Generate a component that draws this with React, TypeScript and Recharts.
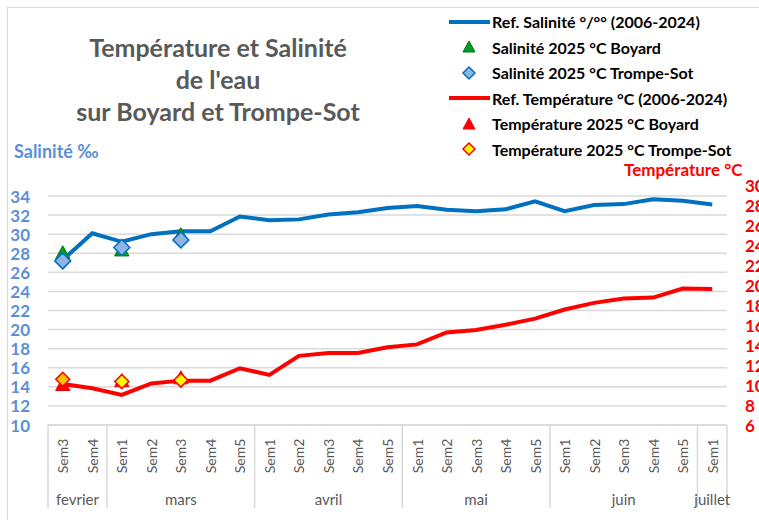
import { ComposedChart, Line, XAxis, YAxis, CartesianGrid } from 'recharts';

const WEEKS = [
  'Sem3', 'Sem4',
  'Sem1', 'Sem2', 'Sem3', 'Sem4', 'Sem5',
  'Sem1', 'Sem2', 'Sem3', 'Sem4', 'Sem5',
  'Sem1', 'Sem2', 'Sem3', 'Sem4', 'Sem5',
  'Sem1', 'Sem2', 'Sem3', 'Sem4', 'Sem5',
  'Sem1',
];
const MONTHS = [
  'fevrier', 'fevrier',
  'mars', 'mars', 'mars', 'mars', 'mars',
  'avril', 'avril', 'avril', 'avril', 'avril',
  'mai', 'mai', 'mai', 'mai', 'mai',
  'juin', 'juin', 'juin', 'juin', 'juin',
  'juillet',
];

// salinité (axe gauche)
const SAL_REF = [27.3, 30.1, 29.2, 30.0, 30.3, 30.3, 31.85, 31.45, 31.55, 32.05, 32.3, 32.75, 32.95, 32.55, 32.4, 32.6, 33.45, 32.4, 33.05, 33.15, 33.65, 33.5, 33.1];
const SAL_BOYARD = [28.1, null, 28.4, null, 30.0];
const SAL_TROMPE = [27.2, null, 28.6, null, 29.4];

// température (axe droit)
const TEMP_REF = [10.3, 9.85, 9.15, 10.35, 10.65, 10.65, 11.95, 11.25, 13.25, 13.55, 13.55, 14.15, 14.45, 15.7, 15.95, 16.5, 17.15, 18.1, 18.8, 19.25, 19.35, 20.3, 20.25];
const TEMP_BOYARD = [10.3, null, 10.7, null, 11.0];
const TEMP_TROMPE = [10.8, null, 10.55, null, 10.7];

const SAL_TICKS = [10, 12, 14, 16, 18, 20, 22, 24, 26, 28, 30, 32, 34];
const TEMP_TICKS = [6, 8, 10, 12, 14, 16, 18, 20, 22, 24, 26, 28, 30];

const data = WEEKS.map((w, i) => ({
  key: `${MONTHS[i]}-${w}`,
  salRef: SAL_REF[i],
  salBoyard: SAL_BOYARD[i] ?? null,
  salTrompe: SAL_TROMPE[i] ?? null,
  tempRef: TEMP_REF[i],
  tempBoyard: TEMP_BOYARD[i] ?? null,
  tempTrompe: TEMP_TROMPE[i] ?? null,
}));

const W = 759;
const H = 520;
const LEFT_W = 48;
const RIGHT_W = 32;
const TOP = 196;
const X_AXIS_H = 95;
const PLOT_BOTTOM = H - X_AXIS_H;
const BAND = (W - LEFT_W - RIGHT_W) / WEEKS.length;

const GRAY = '#595959';
const GRID = '#d9d9d9';
const SAL_BLUE = '#5b8fd6';
const FONT = 'Lato, "Open Sans", sans-serif';
const TROMPE_TEMP_FILLS = ['#ffc000', '#ffff00', '#ffff00', '#ffff00', '#ffff00'];

function triangleDot(fill: string, stroke: string, size: number) {
  return (props: any) => {
    const { cx, cy, value, index } = props;
    if (value == null || cx == null || cy == null) return <g key={index} />;
    const w = size * 1.1;
    return (
      <polygon
        key={index}
        points={`${cx},${cy - size / 2} ${cx + w / 2},${cy + size / 2} ${cx - w / 2},${cy + size / 2}`}
        fill={fill}
        stroke={stroke}
        strokeWidth={1}
      />
    );
  };
}

function diamondDot(fills: string[] | string, stroke: string, s: number) {
  return (props: any) => {
    const { cx, cy, value, index } = props;
    if (value == null || cx == null || cy == null) return <g key={index} />;
    const fill = Array.isArray(fills) ? fills[index] ?? fills[0] : fills;
    return (
      <polygon
        key={index}
        points={`${cx},${cy - s} ${cx + s},${cy} ${cx},${cy + s} ${cx - s},${cy}`}
        fill={fill}
        stroke={stroke}
        strokeWidth={1.5}
      />
    );
  };
}

function WeekTick(props: any) {
  const { x, payload } = props;
  const i = payload?.index ?? props.index;
  const first = i === 0 || MONTHS[i] !== MONTHS[i - 1];
  const last = i === WEEKS.length - 1;
  let monthLabel = null;
  if (first) {
    let n = 0;
    while (MONTHS[i + n] === MONTHS[i]) n++;
    const cx = x - BAND / 2 + (n * BAND) / 2;
    monthLabel = (
      <text x={cx} y={499} textAnchor="middle" dominantBaseline="central" fill={GRAY} fontSize={15} fontFamily={FONT}>
        {MONTHS[i]}
      </text>
    );
  }
  return (
    <g>
      <text
        x={x}
        y={456}
        transform={`rotate(-90 ${x} 456)`}
        textAnchor="middle"
        dominantBaseline="central"
        fill={GRAY}
        fontSize={14}
        fontFamily={FONT}
      >
        {WEEKS[i]}
      </text>
      {first && <line x1={x - BAND / 2} x2={x - BAND / 2} y1={PLOT_BOTTOM} y2={508} stroke={GRID} strokeWidth={1.5} />}
      {last && <line x1={x + BAND / 2} x2={x + BAND / 2} y1={PLOT_BOTTOM} y2={508} stroke={GRID} strokeWidth={1.5} />}
      {monthLabel}
    </g>
  );
}

function SalTick(props: any) {
  const { y, payload } = props;
  return (
    <text x={30} y={y} textAnchor="end" dominantBaseline="central" fill={SAL_BLUE} fontSize={17} fontWeight={700} fontFamily={FONT}>
      {payload.value}
    </text>
  );
}

function TempTick(props: any) {
  const { y, payload } = props;
  const shift = (payload.value - 6) * 0.45;
  return (
    <text x={745} y={y - shift} textAnchor="start" dominantBaseline="central" fill="#ff0000" fontSize={17} fontWeight={700} fontFamily={FONT}>
      {payload.value}
    </text>
  );
}

const LEGEND = [
  { label: 'Ref. Salinité °/°° (2006-2024)', kind: 'line', color: '#0070c0' },
  { label: 'Salinité 2025 °C Boyard', kind: 'triangle', color: '#00a020', stroke: '#007010' },
  { label: 'Salinité 2025 °C Trompe-Sot', kind: 'diamond', color: '#8eb4e3', stroke: '#0070c0' },
  { label: 'Ref. Température °C (2006-2024)', kind: 'line', color: '#ff0000' },
  { label: 'Température 2025 °C Boyard', kind: 'triangle', color: '#ff0000', stroke: '#ff0000' },
  { label: 'Température 2025 °C Trompe-Sot', kind: 'diamond', color: '#ffff00', stroke: '#ff0000' },
];

function LegendBox() {
  return (
    <div style={{ position: 'absolute', left: 449, top: 9, fontFamily: FONT }}>
      {LEGEND.map((item) => (
        <div key={item.label} style={{ height: 25.5, display: 'flex', alignItems: 'center' }}>
          <svg width={43} height={20} style={{ flex: 'none' }}>
            {item.kind === 'line' && <line x1={0} x2={41} y1={10} y2={10} stroke={item.color} strokeWidth={4} />}
            {item.kind === 'triangle' && (
              <polygon points="20,4 26,15 14,15" fill={item.color} stroke={item.stroke} strokeWidth={1} />
            )}
            {item.kind === 'diamond' && (
              <polygon points="20,4 26,10 20,16 14,10" fill={item.color} stroke={item.stroke} strokeWidth={1.5} />
            )}
          </svg>
          <span style={{ fontSize: 16, fontWeight: 700, color: '#000', whiteSpace: 'nowrap' }}>{item.label}</span>
        </div>
      ))}
    </div>
  );
}

export default function App() {
  return (
    <div style={{ position: 'absolute', left: 0, top: 0, width: W, height: H, overflow: 'hidden', background: '#fff', fontFamily: FONT }}>
      <div style={{ position: 'absolute', left: 7, top: 7, width: 900, height: 700, borderLeft: `1.5px solid ${GRID}`, borderTop: `1.5px solid ${GRID}` }} />
      <div style={{ position: 'absolute', left: 18, top: 31, width: 400, textAlign: 'center', color: GRAY, fontSize: 25, fontWeight: 700, lineHeight: '32px' }}>
        <div>Température et Salinité</div>
        <div>de l'eau</div>
        <div>sur Boyard et Trompe-Sot</div>
      </div>
      <div style={{ position: 'absolute', left: 14, top: 140, color: SAL_BLUE, fontSize: 18, fontWeight: 700, whiteSpace: 'nowrap' }}>
        Salinité ‰
      </div>
      <div style={{ position: 'absolute', left: 624, top: 159, color: '#ff0000', fontSize: 17, fontWeight: 700, whiteSpace: 'nowrap' }}>
        Température °C
      </div>
      <LegendBox />
      <div style={{ position: 'absolute', left: 0, top: 0 }}>
        <ComposedChart width={W} height={H} data={data} margin={{ top: TOP, right: 0, bottom: 0, left: 0 }}>
          <CartesianGrid yAxisId="sal" vertical={false} stroke={GRID} strokeWidth={1.5} />
          <XAxis
            dataKey="key"
            height={X_AXIS_H}
            interval={0}
            padding={{ left: BAND / 2, right: BAND / 2 }}
            tickLine={false}
            axisLine={{ stroke: GRID, strokeWidth: 1.5 }}
            tick={<WeekTick />}
          />
          <YAxis
            yAxisId="sal"
            orientation="left"
            width={LEFT_W}
            domain={[10, 34]}
            ticks={SAL_TICKS}
            interval={0}
            axisLine={false}
            tickLine={false}
            tick={<SalTick />}
          />
          <YAxis
            yAxisId="temp"
            orientation="right"
            width={RIGHT_W}
            domain={[6, 30]}
            ticks={TEMP_TICKS}
            interval={0}
            axisLine={false}
            tickLine={false}
            tick={<TempTick />}
          />
          <Line yAxisId="sal" dataKey="salRef" stroke="#0070c0" strokeWidth={4} dot={false} activeDot={false} isAnimationActive={false} />
          <Line yAxisId="sal" dataKey="salBoyard" stroke="none" dot={triangleDot('#00a020', '#007010', 13)} activeDot={false} isAnimationActive={false} />
          <Line yAxisId="sal" dataKey="salTrompe" stroke="none" dot={diamondDot('#8eb4e3', '#0070c0', 8)} activeDot={false} isAnimationActive={false} />
          <Line yAxisId="temp" dataKey="tempRef" stroke="#ff0000" strokeWidth={4} dot={false} activeDot={false} isAnimationActive={false} />
          <Line yAxisId="temp" dataKey="tempBoyard" stroke="none" dot={triangleDot('#ff0000', '#ff0000', 13)} activeDot={false} isAnimationActive={false} />
          <Line yAxisId="temp" dataKey="tempTrompe" stroke="none" dot={diamondDot(TROMPE_TEMP_FILLS, '#ff0000', 7)} activeDot={false} isAnimationActive={false} />
        </ComposedChart>
      </div>
    </div>
  );
}
